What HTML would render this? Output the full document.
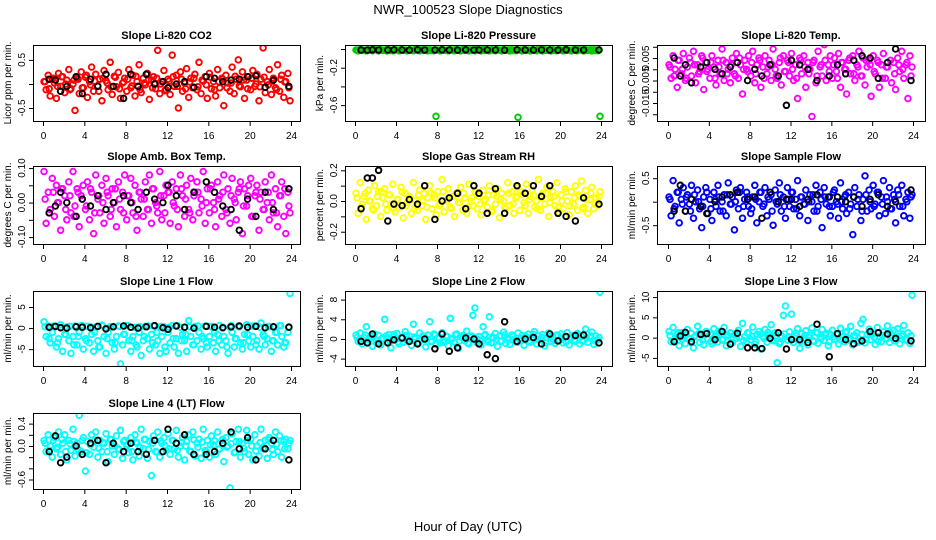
<!DOCTYPE html>
<html>
<head>
<meta charset="utf-8">
<style>
  html,body{margin:0;padding:0;background:#fff;}
  svg{display:block;font-family:"Liberation Sans",Arial,sans-serif;}
</style>
</head>
<body>
<svg id="chart" width="936" height="540" viewBox="0 0 936 540">
  <text x="468" y="14" text-anchor="middle" font-size="13">NWR_100523  Slope Diagnostics</text>
  <text x="468" y="531" text-anchor="middle" font-size="13">Hour of Day (UTC)</text>
</svg>
<script>
// ---- shared x categories (hour of day) ----
const hoursColor = [0.1,0.3,0.5,0.7,0.9,1.1,1.3,1.5,1.7,1.9,2.1,2.3,2.5,2.7,2.9,3.1,3.3,3.5,3.7,3.9,
4.1,4.3,4.5,4.7,4.9,5.1,5.3,5.5,5.7,5.9,6.1,6.3,6.5,6.7,6.9,7.1,7.3,7.5,7.7,7.9,
8.1,8.3,8.5,8.7,8.9,9.1,9.3,9.5,9.7,9.9,10.1,10.3,10.5,10.7,10.9,11.1,11.3,11.5,11.7,11.9,
12.1,12.3,12.5,12.7,12.9,13.1,13.3,13.5,13.7,13.9,14.1,14.3,14.5,14.7,14.9,15.1,15.3,15.5,15.7,15.9,
16.1,16.3,16.5,16.7,16.9,17.1,17.3,17.5,17.7,17.9,18.1,18.3,18.5,18.7,18.9,19.1,19.3,19.5,19.7,19.9,
20.1,20.3,20.5,20.7,20.9,21.1,21.3,21.5,21.7,21.9,22.1,22.3,22.5,22.7,22.9,23.1,23.3,23.5,23.7,23.9];
const hoursCore = [0.2,0.6,1.0,1.4,1.8,2.2,2.6,3.0,3.4,3.8,4.2,4.6,5.0,5.4,5.8,6.2,6.6,7.0,7.4,7.8,
8.2,8.6,9.0,9.4,9.8,10.2,10.6,11.0,11.4,11.8,12.2,12.6,13.0,13.4,13.8,14.2,14.6,15.0,15.4,15.8,
16.2,16.6,17.0,17.4,17.8,18.2,18.6,19.0,19.4,19.8,20.2,20.6,21.0,21.4,21.8,22.2,22.6,23.0,23.4,23.8];
const hoursBlack = [0.6,1.2,1.7,2.3,3.2,3.8,4.6,5.3,6.1,6.8,7.8,8.5,9.2,10.0,10.8,11.6,12.1,12.9,13.7,14.6,15.8,16.6,17.4,18.2,19.0,19.8,20.6,21.5,22.3,23.8];
const xTicks = [0,4,8,12,16,20,24];

// ---- series values ----
const co2Color = [.05,-.12,.18,-.25,.1,.02,-.3,.22,-.05,.15,-.18,.08,.3,-.1,.0,-.55,.12,-.2,.25,-.08,
.14,-.28,.05,.35,-.15,.2,-.04,.1,-.35,.28,.07,-.12,.45,-.22,.16,-.06,.24,-.3,.02,.12,
-.15,.3,-.08,.18,-.25,.05,.4,-.18,.12,-.02,.22,-.32,.08,.15,-.1,.7,-.2,.05,.28,-.12,
.1,-.22,.6,-.05,.18,-.5,.25,-.15,.02,.32,-.28,.12,-.08,.2,-.12,.45,-.2,.06,.15,-.3,
.22,-.1,.05,-.25,.3,-.08,.12,-.45,.18,.02,-.15,.35,-.2,.1,.5,-.06,.25,-.3,.08,.15,
-.12,.28,-.05,.2,-.35,.1,.75,-.18,.05,.3,-.22,.12,-.08,.4,-.15,.18,-.28,.05,.22,-.35];
const co2Core = [.05,-.1,.12,-.05,.15,.0,-.12,.08,.1,-.08,.18,-.02,.06,-.15,.12,.02,-.06,.14,-.1,.04,
.1,-.04,.16,-.12,.02,.08,-.08,.12,.0,-.14,.06,.15,-.05,.1,-.1,.04,.12,-.06,.08,-.02,
.14,-.12,.05,.1,-.08,.02,.16,-.04,.08,-.1,.12,.0,-.06,.14,-.02,.06,-.12,.1,.04,-.08];
const co2Black = [.1,.08,-.15,-.05,.15,-.2,.1,-.05,.2,-.05,-.3,.2,-.05,.2,.0,.05,-.08,.0,.05,-.07,.15,.12,.05,.08,.1,.15,.17,-.07,.08,-.05];

const presColor = [-.01,-.02,-.005,-.015,-.01,-.02,-.008,-.012,-.018,-.006,-.01,-.02,-.005,-.015,-.01,-.02,-.008,-.012,-.018,-.006,
-.01,-.02,-.005,-.015,-.01,-.02,-.008,-.012,-.018,-.006,-.01,-.02,-.005,-.015,-.01,-.02,-.008,-.012,-.018,-.72,
-.01,-.02,-.005,-.015,-.01,-.02,-.008,-.012,-.018,-.006,-.01,-.02,-.005,-.015,-.01,-.02,-.008,-.012,-.018,-.006,
-.01,-.02,-.005,-.015,-.01,-.02,-.008,-.012,-.018,-.006,-.01,-.02,-.005,-.015,-.01,-.02,-.008,-.012,-.018,-.73,
-.01,-.02,-.005,-.015,-.01,-.02,-.008,-.012,-.018,-.006,-.01,-.02,-.005,-.015,-.01,-.02,-.008,-.012,-.018,-.006,
-.01,-.02,-.005,-.015,-.01,-.02,-.008,-.012,-.018,-.006,-.01,-.02,-.005,-.015,-.01,-.02,-.008,-.012,-.018,-.72];
const presCore = [-.012,-.008,-.015,-.01,-.006,-.014,-.01,-.009,-.016,-.011,-.012,-.008,-.015,-.01,-.006,-.014,-.01,-.009,-.016,-.011,
-.012,-.008,-.015,-.01,-.006,-.014,-.01,-.009,-.016,-.011,-.012,-.008,-.015,-.01,-.006,-.014,-.01,-.009,-.016,-.011,
-.012,-.008,-.015,-.01,-.006,-.014,-.01,-.009,-.016,-.011,-.012,-.008,-.015,-.01,-.006,-.014,-.01,-.009,-.016,-.011];
const presBlack = [-.01,-.012,-.008,-.01,-.011,-.009,-.01,-.012,-.008,-.01,-.011,-.009,-.01,-.012,-.008,-.01,-.011,-.009,-.01,-.012,-.008,-.01,-.011,-.009,-.01,-.012,-.008,-.01,-.011,-.009];

const tempColor = [.002,-.004,.006,.0,-.008,.004,-.002,.007,-.005,.001,.005,-.003,.008,-.006,.002,-.001,.006,-.009,.003,.0,
-.004,.006,.001,-.007,.004,-.002,.009,-.005,.003,.0,-.006,.005,-.002,.007,-.004,.002,-.011,.004,.0,.006,
-.003,.008,-.006,.002,.005,-.008,.001,.006,-.002,.004,-.005,.009,.0,-.004,.003,-.007,.006,-.001,.004,-.003,
.007,-.005,.002,-.013,.005,-.002,.006,-.008,.003,.0,-.021,.004,-.006,.008,.001,-.003,.011,-.005,.002,.006,
-.004,.005,-.001,.007,-.008,.003,.0,-.011,.004,-.002,.006,-.005,.002,.008,-.003,.005,-.007,.001,.004,-.012,
.006,-.002,.004,-.008,.002,.007,-.004,.001,.012,-.006,.003,-.009,.005,-.001,.008,-.004,.002,-.013,.006,.001];
const tempCore = [.001,-.003,.004,.0,-.004,.003,.002,-.002,.005,-.001,.003,-.004,.001,.004,-.002,.002,-.003,.005,.0,-.001,
.003,-.002,.004,-.004,.001,.002,-.003,.005,-.001,.003,.0,-.004,.004,.001,-.002,.003,-.003,.002,.004,-.001,
.002,-.004,.003,.0,.005,-.002,.001,-.003,.004,.002,-.001,.003,-.004,.001,.004,-.002,.002,.0,.003,-.003];
const tempBlack = [.005,-.003,.002,-.006,.001,.003,.0,-.002,.001,.003,-.005,.0,-.003,.002,-.003,-.016,.004,.002,.0,-.005,-.003,.002,-.002,.004,.006,.005,-.004,.003,.009,-.005];

const boxColor = [.09,-.06,.03,-.02,.07,-.04,.05,.0,-.08,.04,.02,-.05,.06,-.03,.09,-.01,.04,-.07,.02,.05,
-.02,.06,-.05,.03,-.09,.08,.01,-.03,.05,-.06,.07,.02,-.04,.04,.0,-.07,.06,-.02,.03,.08,
-.05,.02,.07,-.03,.05,-.08,.03,.01,-.04,.06,-.02,.08,-.06,.04,.0,-.03,.09,-.05,.02,.05,
.03,-.06,.06,-.01,.04,-.07,.08,.02,-.04,.05,-.02,.07,-.05,.03,.06,-.03,.01,.09,-.06,.04,
-.03,.05,.0,-.07,.06,.02,-.04,.08,-.02,.04,-.06,.07,.01,-.05,.03,.06,-.09,.04,-.01,.05,
.07,-.04,.02,.05,-.08,.03,-.02,.06,.0,-.05,.08,-.03,.04,-.07,.02,.06,-.04,-.09,.03,-.03];
const boxCore = [.01,-.03,.03,.0,.04,-.02,.02,-.04,.03,.01,-.01,.04,-.03,.02,.0,.03,-.02,.04,.01,-.03,
.02,.0,-.04,.03,.01,-.02,.04,-.01,.02,-.03,.03,.0,-.02,.04,.01,-.03,.02,.03,-.01,.0,
.04,-.02,.01,.03,-.03,.02,.0,.04,-.01,.02,-.04,.03,.01,-.02,.03,.0,-.03,.02,.04,-.01];
const boxBlack = [-.03,-.01,.03,.0,-.04,.01,-.01,.02,-.02,.0,.02,.0,-.02,.03,.01,.0,.05,.02,-.02,.03,.06,.03,-.01,-.02,-.08,.01,-.04,.03,-.02,.04];

const rhColor = [.05,-.08,.12,-.02,.03,-.12,.07,.0,-.05,.1,-.03,.06,-.1,.02,.08,-.06,.04,-.02,.11,-.07,
.01,-.04,.09,-.11,.05,-.01,.03,-.08,.12,.0,-.06,.07,-.03,.05,-.12,.02,.1,-.05,.04,-.09,
.06,-.02,.14,-.07,.0,.08,-.04,.03,-.1,.05,-.01,.09,-.06,.02,-.08,.11,.0,-.03,.06,-.05,
.03,-.09,.07,.01,-.04,.1,-.07,.04,-.02,.08,-.11,.05,.0,-.05,.12,-.03,.06,-.08,.02,.09,
-.06,.04,-.01,.11,-.08,.03,.07,-.04,.0,.14,-.06,.05,-.02,.09,-.1,.02,.06,-.03,.12,-.07,
.04,-.05,.08,.0,-.09,.06,-.02,.1,-.06,.03,.13,-.04,.07,-.08,.01,.09,-.05,.02,-.03,.06];
const rhCore = [.02,-.04,.05,.0,-.06,.03,.06,-.02,.04,-.05,.01,.06,-.03,.02,-.05,.04,.0,-.04,.05,.02,
-.03,.06,.01,-.05,.03,-.01,.05,-.04,.02,.06,-.02,.0,.04,-.06,.03,.01,-.04,.05,-.02,.03,
.06,-.03,.01,.04,-.05,.02,.05,-.01,.03,-.04,.0,.06,-.03,.02,.04,-.05,.01,.05,-.02,.03];
const rhBlack = [-.05,.15,.15,.2,-.13,-.02,-.03,.01,-.02,.1,-.12,.0,.02,.05,-.05,.1,.05,-.08,.08,-.08,.1,.05,.1,.03,.1,-.08,-.1,-.13,.02,-.02];

const flowColor = [.1,-.3,.45,-.1,.2,-.45,.05,.3,-.2,.15,-.05,.35,-.35,.0,.25,-.15,-.55,.1,.3,-.25,
.05,-.4,.2,-.1,.35,-.2,.0,.15,-.3,.4,-.05,.1,-.6,.25,-.15,.3,-.35,.05,.2,-.1,
-.25,.1,.35,-.45,.0,.2,-.1,.3,-.3,.05,.15,-.5,.25,-.05,.4,-.2,.1,-.35,.3,-.1,
.2,-.15,.05,.45,-.3,.1,-.05,.25,-.4,.15,.0,-.2,.35,-.1,.2,-.55,.3,-.05,.1,-.3,
-.1,.25,.0,-.35,.4,-.15,.1,-.25,.2,-.05,-.7,.3,-.1,.15,-.4,.05,.55,-.2,.25,-.15,
.35,-.05,.2,-.3,.1,.45,-.25,.0,.3,-.15,.15,-.45,.25,-.1,.35,-.3,.05,.2,-.35,.15];
const flowCore = [.05,-.15,.2,-.05,.1,-.2,.15,.0,-.1,.2,-.15,.05,.1,-.2,.15,-.05,.0,.2,-.1,.1,
-.15,.05,.2,-.05,.1,-.2,.0,.15,-.1,.05,.2,-.15,.1,-.05,.0,.15,-.2,.05,.1,-.1,
.2,-.05,.0,.15,-.15,.1,.05,-.2,.15,.0,-.1,.2,-.05,.1,-.15,.05,.15,-.1,.0,.1];
const flowBlack = [-.2,.35,-.2,.05,-.1,-.25,.0,.1,.15,.2,.05,.1,-.35,.2,.0,.05,.05,-.1,.05,.15,.1,.1,.0,.1,-.1,.05,.15,-.1,.0,.25];

const line1Color = [1.5,-2,.5,-3.5,-1,.2,-4.5,-2.5,.8,-5.5,-1.5,.3,-3,-6,-2,.5,-4,-1,.6,-5,
-2.5,.4,-3.5,-1.5,-5.5,.2,-3,-4.5,.7,-2,-6,-1,.3,-3.5,-5,-2,.5,-8.5,-4,-1.5,
.6,-3,-5.5,-2,.2,-4.5,-1,-6.5,-3,.4,-2.5,-5,-1.5,.5,-4,-3,-6,-2,.3,-5.5,
-1,-3.5,.6,-4.5,-2.5,-6,.2,-1.5,-3,-5.5,1.8,-2,-4,.4,-3,-1,-5,-2.5,.5,-4.5,
-2,.3,-3.5,-5.5,-1.5,.6,-4,-2,-3,-6,.2,-1,-4.5,-2.5,.4,-3.5,-5,-1.5,.8,-3,
-4.5,-2,.5,-3,-5,1.2,-1.5,-4,-2.5,.3,-5.5,-3,-1,-4,.6,-2,-4.5,-3.5,-1,8.2];
const line1Core = [.3,-2.5,.5,-3.5,.2,-1.5,.4,-4,-2,.6,-3,.3,-1,-4.5,.5,-2.5,.2,-3.5,.4,-1.5,
.6,-3,-4,.3,-2,.5,-3.5,-1,.4,-4.5,.2,-2.5,.6,-3,-1.5,.3,-4,.5,-2,-3.5,
.4,-1,-3,.2,-4.5,.6,-2.5,.3,-3.5,-1.5,.5,-4,.2,-2,.4,-3,-1,.6,-3.5,.3];
const line1Black = [.2,.4,.1,.0,.3,.2,.1,.4,-.2,.3,.5,.2,.0,.3,.6,.1,-.3,.5,.2,.0,.4,.2,.1,.3,.5,.2,.4,.1,.3,.2];

const line2Color = [.8,-.5,1.2,-1,.3,2.5,-.8,.5,-1.5,1,-.3,.7,-1.2,.2,4,-.6,.9,-1.8,.4,-.2,
1.1,-1,.3,-.7,1.5,-.4,.6,-1.3,3,.1,-.9,1.2,-.2,.5,-1.6,.8,3.5,-.5,1,-1.1,
.2,-.8,1.3,-.3,.6,-1.4,4.2,.1,-.6,1,-1.9,.4,.7,-.4,1.6,-1,.3,4.8,6.3,-.7,
.5,-1.2,2.5,.9,-.3,4.5,-.8,.2,1.1,-1.5,.6,-.4,1.4,-.9,.3,-1.1,.8,.0,-.6,1.2,
-.3,.7,-1.3,.4,1,-.7,.2,1.5,-1,.6,-.2,.9,-1.4,.3,1.2,-.5,.0,-.9,.8,-.4,
1,-.8,.4,1.3,-1.2,.2,.7,-.5,1.1,-1,.5,-.3,2,-.7,.3,1.4,-1.1,.6,-.2,9.5];
const line2Core = [.3,-.5,.8,-.2,.5,-.8,.1,.6,-.4,.9,-.6,.2,.7,-.3,.4,-.9,.6,.0,-.5,.8,
.2,-.7,.5,-.1,.9,-.4,.3,-.8,.6,.1,-.3,.7,-.6,.4,.0,-.5,.8,-.2,.5,-.7,
.1,.6,-.4,.9,-.1,.3,-.8,.5,-.3,.7,.0,-.6,.4,-.2,.8,-.5,.2,.6,-.4,.3];
const line2Black = [-.5,-.8,1,-1,-.8,-.2,.2,-.5,-1,0,-2,1,-2.5,-1.8,.2,0,-1,-3.2,-4,3.5,-.5,0,.3,-1,1,-.4,.5,.7,.8,-.8];

const line3Color = [1.5,-1,2.5,-.5,.8,-2,1.2,.3,-1.5,2,-.3,1,-2.5,.5,2.8,-1.2,.6,-1.8,1.5,-.4,
.9,-1.5,2.2,.1,-1,1.6,-.6,2.5,-2,.4,1.2,-1.3,.7,-.2,1.8,-2.2,3.5,.2,-1,1.1,
-.5,2.6,-1.6,.8,1.5,-2.8,.3,2,-1.1,.6,3.2,-.8,1.2,-6.2,-1.5,.5,5.5,7.8,-.6,1.4,
5.8,-1.2,.4,2.2,-2.6,1,-.3,1.7,-1.8,.6,2.4,-.9,1.3,-1.4,.2,2,-.7,1.1,-2,.8,
1.8,-.4,.9,-1.6,2.3,.1,-1,1.5,-.6,2.8,-1.8,.5,1.2,-.9,3.5,4.5,-1.3,.7,2.1,-.5,
1,-1.7,2.5,.3,-1,1.4,-.2,2.9,-1.2,.6,1.8,-.8,2.2,-1.5,.4,3,-.6,1.2,-1.4,10.5];
const line3Core = [.5,-.8,1.2,-.3,.8,-1.2,.2,1,-.6,1.4,-.9,.4,1.1,-.4,.7,-1.3,.9,.0,-.7,1.2,
.3,-1,.8,-.2,1.3,-.6,.5,-1.1,.9,.2,-.5,1.1,-.9,.6,.0,-.8,1.2,-.3,.7,-1,
.2,.9,-.6,1.3,-.2,.5,-1.2,.8,-.4,1,.0,-.9,.6,-.3,1.2,-.7,.3,.9,-.6,.5];
const line3Black = [-1,.4,1.3,-1,.8,1,-.5,1.5,-1.6,1.1,-2.5,-2.5,-2.7,-.2,1.2,-2.8,-.5,-.5,-1.2,3.3,-4.7,1,-.5,-1.5,-.8,1.5,1.2,.9,-.2,-.8];

const line4Color = [.1,-.1,.2,.0,-.2,.15,-.05,.25,-.15,.05,.2,-.25,.1,-.08,.3,-.18,.05,.55,-.1,.15,
-.45,.08,-.15,.2,-.02,.25,-.2,.1,-.1,.05,.22,-.28,.12,.0,-.15,.18,-.05,.28,-.22,.1,
.0,-.12,.15,-.25,.2,.05,-.18,.3,-.05,.12,-.22,.08,-.53,.18,-.1,.25,-.2,.05,.15,-.08,
.22,-.15,.1,-.05,.28,-.2,.0,.15,-.25,.08,.2,-.1,.25,-.18,.05,.12,-.22,.3,-.08,.1,
-.2,.18,.02,-.15,.25,-.05,.1,-.28,.15,.0,-.75,.22,-.12,.08,.3,-.2,.05,-.1,.28,-.15,
.12,-.25,.2,.0,-.18,.3,-.05,.1,-.22,.15,.05,-.15,.25,-.1,.18,-.2,.08,.12,-.05,.1];
const line4Core = [.05,-.08,.1,-.02,.12,-.1,.04,.08,-.06,.1,-.12,.02,.09,-.04,.06,-.1,.11,.0,-.07,.08,
.03,-.1,.07,-.03,.12,-.06,.05,-.11,.09,.01,-.05,.1,-.08,.06,.0,-.09,.11,-.02,.07,-.1,
.02,.09,-.06,.12,-.02,.04,-.11,.08,-.04,.1,.0,-.09,.06,-.03,.11,-.07,.03,.09,-.05,.05];
const line4Black = [-.1,.18,-.3,-.2,.0,-.15,.05,.1,-.3,.05,-.1,.05,-.1,-.15,.1,-.1,.3,.05,.2,-.15,-.15,-.1,.05,.25,-.05,.15,-.25,-.05,.1,-.25];

// ---- y tick values & labels per panel ----
const co2Ticks = [0.5,0,-0.5];            const co2Labels = ["0.5","","-0.5"];
const presTicks = [0,-0.2,-0.4,-0.6];     const presLabels = ["","-0.2","","-0.6"];
const tempTicks = [0.01,0.005,0,-0.005,-0.01,-0.015,-0.02]; const tempLabels = ["","0.005","","-0.005","","-0.015",""];
const boxTicks = [0.1,0.05,0,-0.05,-0.1]; const boxLabels = ["0.10","","0.00","","-0.10"];
const rhTicks = [0.2,0.1,0,-0.1,-0.2];    const rhLabels = ["0.2","","0.0","","-0.2"];
const flowTicks = [0.5,0,-0.5];           const flowLabels = ["0.5","","-0.5"];
const line1Ticks = [5,0,-5];              const line1Labels = ["5","0","-5"];
const line2Ticks = [8,4,0,-4];            const line2Labels = ["8","4","0","-4"];
const line3Ticks = [10,5,0,-5];           const line3Labels = ["10","5","0","-5"];
const line4Ticks = [0.4,0.2,0,-0.2,-0.4,-0.6]; const line4Labels = ["0.4","","0.0","","","-0.6"];

// ---- layout (not data) ----
const cols = [{l:33,r:300,h0:43,h24:291},{l:345,r:612,h0:355,h24:601},{l:657,r:925,h0:668,h24:913}];
const rows = [{t:45,b:121},{t:166,b:244},{t:291,b:366},{t:413,b:489}];

const panels = [
 {name:"co2",title:"Slope Li-820 CO2",ylab:"Licor ppm per min.",col:0,row:0,top:0.81,bot:-0.77,color:"#ff0000",c:co2Color,cc:co2Core,k:co2Black,ticks:co2Ticks,labels:co2Labels},
 {name:"pressure",title:"Slope Li-820 Pressure",ylab:"kPa per min.",col:1,row:0,top:0.043,bot:-0.77,color:"#00cc00",c:presColor,cc:presCore,k:presBlack,ticks:presTicks,labels:presLabels},
 {name:"temp",title:"Slope Li-820 Temp.",ylab:"degrees C per min.",col:2,row:0,top:0.0108,bot:-0.023,color:"#ff00ff",c:tempColor,cc:tempCore,k:tempBlack,ticks:tempTicks,labels:tempLabels},
 {name:"box-temp",title:"Slope Amb. Box Temp.",ylab:"degrees C per min.",col:0,row:1,top:0.106,bot:-0.12,color:"#ff00ff",c:boxColor,cc:boxCore,k:boxBlack,ticks:boxTicks,labels:boxLabels},
 {name:"gas-rh",title:"Slope Gas Stream RH",ylab:"percent per min.",col:1,row:1,top:0.228,bot:-0.28,color:"#ffff00",c:rhColor,cc:rhCore,k:rhBlack,ticks:rhTicks,labels:rhLabels},
 {name:"sample-flow",title:"Slope Sample Flow",ylab:"ml/min per min.",col:2,row:1,top:0.76,bot:-0.9,color:"#0000ff",c:flowColor,cc:flowCore,k:flowBlack,ticks:flowTicks,labels:flowLabels},
 {name:"line1-flow",title:"Slope Line 1 Flow",ylab:"ml/min per min.",col:0,row:2,top:8.8,bot:-9.0,color:"#00ffff",c:line1Color,cc:line1Core,k:line1Black,ticks:line1Ticks,labels:line1Labels},
 {name:"line2-flow",title:"Slope Line 2 Flow",ylab:"ml/min per min.",col:1,row:2,top:9.75,bot:-5.5,color:"#00ffff",c:line2Color,cc:line2Core,k:line2Black,ticks:line2Ticks,labels:line2Labels},
 {name:"line3-flow",title:"Slope Line 3 Flow",ylab:"ml/min per min.",col:2,row:2,top:11.5,bot:-7,color:"#00ffff",c:line3Color,cc:line3Core,k:line3Black,ticks:line3Ticks,labels:line3Labels},
 {name:"line4-flow",title:"Slope Line 4 (LT) Flow",ylab:"ml/min per min.",col:0,row:3,top:0.59,bot:-0.77,color:"#00ffff",c:line4Color,cc:line4Core,k:line4Black,ticks:line4Ticks,labels:line4Labels}
];

const NS = "http://www.w3.org/2000/svg";
const svg = document.getElementById("chart");
function mk(tag, attrs, parent){
  const e = document.createElementNS(NS, tag);
  for (const a in attrs) e.setAttribute(a, attrs[a]);
  parent.appendChild(e);
  return e;
}

panels.forEach(p => {
  const C = cols[p.col], R = rows[p.row];
  const xs = h => C.h0 + (h/24)*(C.h24 - C.h0);
  const ys = v => R.t + (p.top - v)/(p.top - p.bot)*(R.b - R.t);

  const g = mk("g", {}, svg);
  
  

  const title = mk("text", {x:(C.l+C.r)/2, y:R.t-6, "text-anchor":"middle", "font-size":"11", "font-weight":"bold"}, g);
  title.textContent = p.title;
  
  

  const clip = mk("clipPath", {id:"clip-"+p.name}, g);
  mk("rect", {x:C.l, y:R.t, width:C.r-C.l, height:R.b-R.t}, clip);

  const pts = mk("g", {"clip-path":"url(#clip-"+p.name+")", fill:"none", "stroke-width":"1.9"}, g);
  
  
  p.c.forEach((v,i) => {
    const c = mk("circle", {cx:xs(hoursColor[i]).toFixed(1), cy:ys(v).toFixed(1), r:2.8, stroke:p.color}, pts);
    
    
  });
  p.cc.forEach((v,i) => {
    const c = mk("circle", {cx:xs(hoursCore[i]).toFixed(1), cy:ys(v).toFixed(1), r:2.8, stroke:p.color}, pts);
    
    
  });
  p.k.forEach((v,i) => {
    const c = mk("circle", {cx:xs(hoursBlack[i]).toFixed(1), cy:ys(v).toFixed(1), r:2.8, stroke:"#000"}, pts);
    
    
  });

  const box = mk("rect", {x:C.l+0.5, y:R.t+0.5, width:C.r-C.l, height:R.b-R.t, fill:"none", stroke:"#000", "stroke-width":"1"}, g);
  
  

  // x axis
  const xa = mk("g", {"font-size":"10"}, g);
  
  
  mk("line", {x1:xs(xTicks[0]), x2:xs(xTicks[xTicks.length-1]), y1:R.b+0.5, y2:R.b+0.5, stroke:"#000"}, xa);
  xTicks.forEach(t => {
    mk("line", {x1:xs(t)+0.5, x2:xs(t)+0.5, y1:R.b, y2:R.b+5, stroke:"#000"}, xa);
    const lt = mk("text", {x:xs(t)+0.5, y:R.b+18, "text-anchor":"middle"}, xa);
    lt.textContent = t;
    
    
  });

  // y axis
  const ya = mk("g", {"font-size":"10"}, g);
  
  
  const tmax = p.ticks[0], tmin = p.ticks[p.ticks.length-1];
  mk("line", {x1:C.l+0.5, x2:C.l+0.5, y1:ys(tmax), y2:ys(tmin), stroke:"#000"}, ya);
  p.ticks.forEach((t,i) => {
    const y = ys(t);
    mk("line", {x1:C.l-4, x2:C.l, y1:y+0.5, y2:y+0.5, stroke:"#000"}, ya);
    if (p.labels[i]) {
      const lx = C.l - 8;
      const lt = mk("text", {x:lx, y:y, "text-anchor":"middle", transform:"rotate(-90 "+lx+" "+y+")"}, ya);
      lt.textContent = p.labels[i];
      
      
    }
  });
  const tx = C.l - 22, ty = (R.t + R.b)/2;
  const yl = mk("text", {x:tx, y:ty, "text-anchor":"middle", "font-size":"10", transform:"rotate(-90 "+tx+" "+ty+")"}, g);
  yl.textContent = p.ylab;
  
  
});
</script>
</body>
</html>
